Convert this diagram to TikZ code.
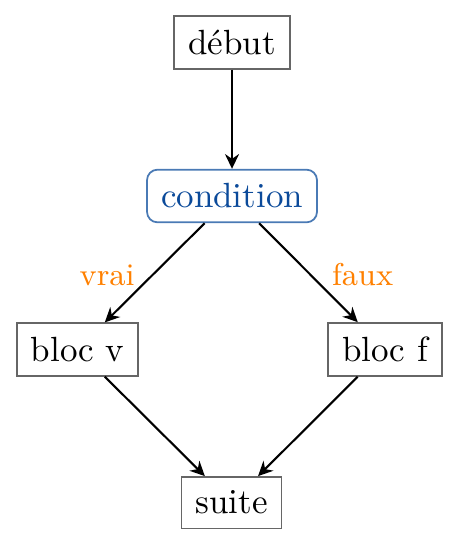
\documentclass[tikz,border=0pt]{standalone}
\usetikzlibrary{arrows.meta}
\definecolor{boxgray}{HTML}{666666}
\definecolor{condblue}{HTML}{4A7AB5}
\definecolor{condtext}{HTML}{0B4A9A}
\definecolor{lblorange}{HTML}{FF8000}
\tikzset{
  stepbox/.style={draw=boxgray, line width=0.45pt, inner sep=4pt, fill=white},
  condbox/.style={draw=condblue, line width=0.5pt, inner sep=4pt, rounded corners=3pt, text=condtext, fill=white},
  flow/.style={semithick, -{Stealth[length=4.2pt, width=4pt]}},
  lbl/.style={text=lblorange, inner sep=2pt, font=\small, yshift=-1.2pt}
}
\begin{document}
\begin{tikzpicture}[x=1pt,y=-1pt]
\useasboundingbox (0,0) rectangle (131.43,156);
\node[stepbox] (debut) at (66.29,12.14) {début};
\node[condbox] (cond) at (66.29,56) {condition};
\node[stepbox] (blocv) at (22.14,99.86) {bloc v};
\node[stepbox] (blocf) at (110,99.86) {bloc f};
\node[stepbox] (suite) at (66.14,143.6) {suite};
\draw[flow] (debut) -- (cond);
\draw[flow] (cond) -- node[lbl, pos=0.48, left=4pt] {vrai} (blocv);
\draw[flow] (cond) -- node[lbl, pos=0.48, right=5pt] {faux} (blocf);
\draw[flow] (blocv) -- (suite);
\draw[flow] (blocf) -- (suite);
\end{tikzpicture}
\end{document}
